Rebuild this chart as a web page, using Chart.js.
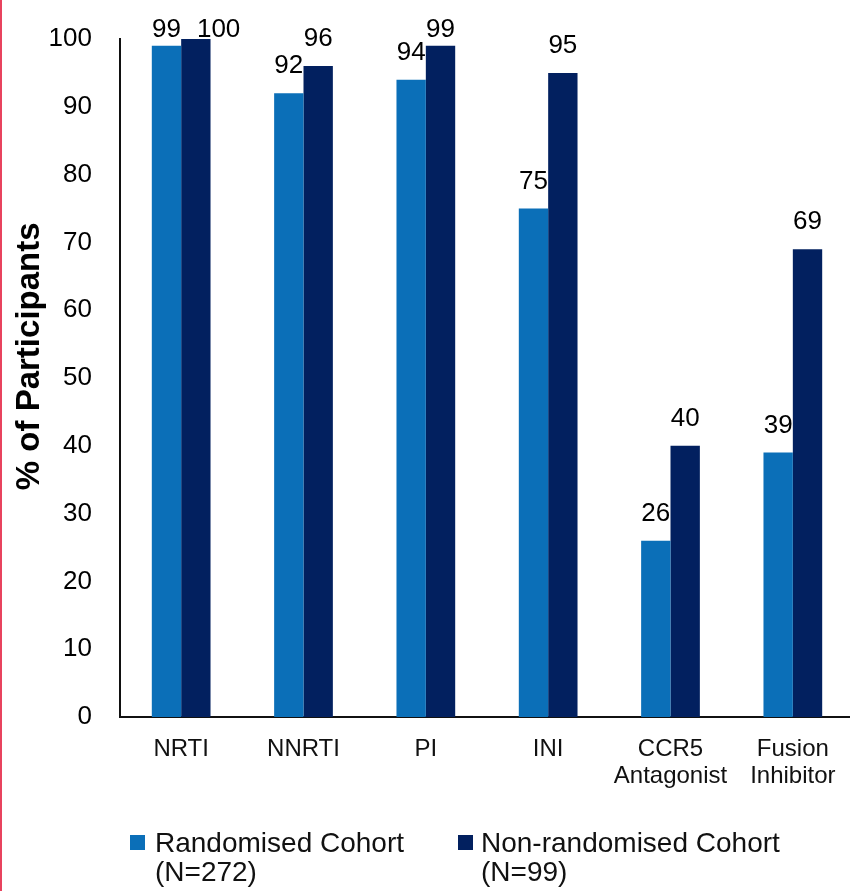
<!DOCTYPE html>
<html>
<head>
<meta charset="utf-8">
<script src="https://cdn.jsdelivr.net/npm/chart.js@4/dist/chart.umd.min.js"></script>
<style>
  html, body { margin: 0; padding: 0; background: #fff; overflow: hidden; }
  #wrap { position: relative; width: 850px; height: 891px; overflow: hidden; }
  #wrap canvas { position: absolute; left: 0; top: 0; }
  .edge { position: absolute; left: 0; top: 0; width: 2px; height: 891px; background: #e8435e; }
  .legend-item { position: absolute; top: 828px; font-family: "Liberation Sans", Arial, sans-serif;
                 font-size: 28px; line-height: 29px; color: #111; white-space: nowrap; }
  .swatch { position: absolute; top: 835px; width: 15px; height: 15px; }
</style>
</head>
<body>
<div id="wrap">
  <canvas id="chart" width="856" height="891" style="width:856px;height:891px"></canvas>
  <div class="edge"></div>
  <div class="swatch" style="left:130px;background:#0B6FB8"></div>
  <div class="legend-item" style="left:155px">Randomised Cohort<br>(N=272)</div>
  <div class="swatch" style="left:458px;background:#02205F"></div>
  <div class="legend-item" style="left:481px">Non-randomised Cohort<br>(N=99)</div>
</div>
<script>
// Drug classes received before study entry
const categories = [
  'NRTI', 'NNRTI', 'PI', 'INI',
  ['CCR5', 'Antagonist'], ['Fusion', 'Inhibitor']
];
const randomisedPct = [99, 92, 94, 75, 26, 39];
const nonRandomisedPct = [100, 96, 99, 95, 40, 69];
const seriesNames = ['Randomised Cohort (N=272)', 'Non-randomised Cohort (N=99)'];
const yTicks = [0, 10, 20, 30, 40, 50, 60, 70, 80, 90, 100];

const FONT = '"Liberation Sans", Arial, sans-serif';

// Value labels above each bar; labels that would collide inside a group get nudged right.
const valueLabels = {
  id: 'valueLabels',
  afterDatasetsDraw(chart) {
    const ctx = chart.ctx;
    ctx.save();
    ctx.font = '26px ' + FONT;
    ctx.fillStyle = '#000';
    ctx.textBaseline = 'alphabetic';
    ctx.textAlign = 'left';
    const n = chart.data.labels.length;
    for (let i = 0; i < n; i++) {
      let prev = null;
      chart.data.datasets.forEach((ds, d) => {
        const bar = chart.getDatasetMeta(d).data[i];
        const text = String(ds.data[i]);
        const w = ctx.measureText(text).width;
        let y = Math.max(bar.y - 20, 37);
        let left = bar.x - w / 2;
        if (prev && Math.abs(prev.y - y) < 20 && prev.right > left - 2) {
          left = prev.right + 16;
        }
        ctx.fillText(text, left, y);
        prev = { y, right: left + w };
      });
    }
    ctx.restore();
  }
};

// Rotated y-axis title
const yTitle = {
  id: 'yTitle',
  afterDraw(chart) {
    const ctx = chart.ctx;
    const a = chart.chartArea;
    ctx.save();
    ctx.translate(30, a.top + (a.bottom - a.top) * 0.468);
    ctx.rotate(-Math.PI / 2);
    ctx.font = 'bold 33px ' + FONT;
    ctx.fillStyle = '#000';
    ctx.textAlign = 'center';
    ctx.textBaseline = 'middle';
    ctx.fillText('% of Participants', 0, 0);
    ctx.restore();
  }
};

new Chart(document.getElementById('chart'), {
  type: 'bar',
  data: {
    labels: categories,
    datasets: [
      { label: seriesNames[0], data: randomisedPct, backgroundColor: '#0B6FB8' },
      { label: seriesNames[1], data: nonRandomisedPct, backgroundColor: '#02205F' }
    ]
  },
  options: {
    responsive: false,
    animation: false,
    devicePixelRatio: 1,
    layout: { padding: { top: 39, right: 2, bottom: 0, left: 0 } },
    datasets: { bar: { categoryPercentage: 0.48, barPercentage: 1.0 } },
    plugins: {
      legend: { display: false },
      tooltip: { enabled: false }
    },
    scales: {
      x: {
        grid: { display: false, drawTicks: false },
        border: { display: true, color: '#111', width: 2 },
        ticks: {
          color: '#111',
          font: { family: FONT, size: 24, lineHeight: 1.12 },
          padding: 19,
          maxRotation: 0,
          autoSkip: false
        },
        afterFit(scale) { scale.height = 174; }
      },
      y: {
        min: 0,
        max: 100,
        afterBuildTicks(scale) { scale.ticks = yTicks.map(v => ({ value: v })); },
        grid: { display: false, drawTicks: false },
        border: { display: true, color: '#111', width: 2 },
        ticks: {
          color: '#000',
          font: { family: FONT, size: 26 },
          padding: 28
        },
        afterFit(scale) {
          scale.width = 120;
          scale.paddingTop = 0;
          scale.paddingBottom = 0;
        }
      }
    }
  },
  plugins: [valueLabels, yTitle]
});
</script>
</body>
</html>
